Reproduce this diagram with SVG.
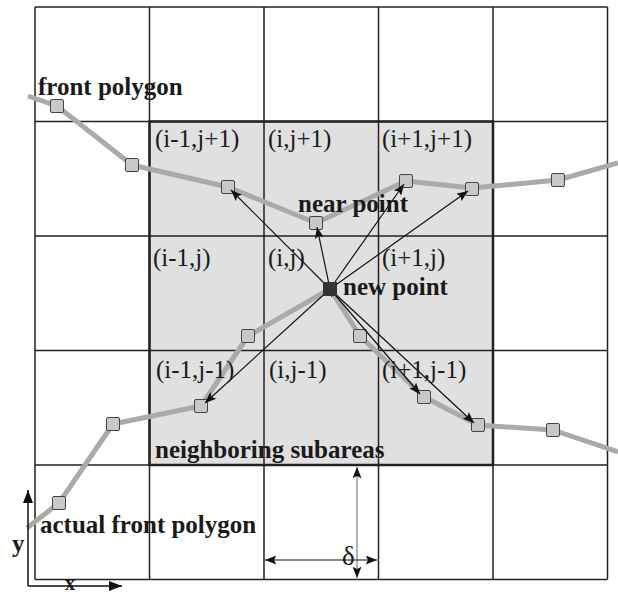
<svg xmlns="http://www.w3.org/2000/svg" width="618" height="596" viewBox="0 0 618 596">
<style>
.grid{stroke:#222;stroke-width:1.5;fill:none}
.poly{stroke:#aaa;stroke-width:5;fill:none;stroke-linejoin:round}
.sq{fill:#c8c8c8;stroke:#444;stroke-width:1}
.arr{stroke:#111;stroke-width:1.2;fill:none;marker-end:url(#ah);marker-start:url(#as)}
.lbl{font-family:"Liberation Serif","Times New Roman",serif;font-size:25px;fill:#1a1a1a}
.b{font-weight:bold}
</style>
<defs>
<marker id="ah" viewBox="0 0 10 8" refX="10" refY="4" markerWidth="12" markerHeight="9" markerUnits="userSpaceOnUse" orient="auto"><path d="M0,0 L10,4 L0,8 L2,4 Z" fill="#111"/></marker>
<marker id="as" viewBox="0 0 10 8" refX="2" refY="4" markerWidth="11" markerHeight="9" markerUnits="userSpaceOnUse" orient="auto-start-reverse"><path d="M0,0 L10,4 L0,8 Z" fill="#222"/></marker>
<marker id="dh" viewBox="0 0 10 8" refX="10" refY="4" markerWidth="12" markerHeight="9" markerUnits="userSpaceOnUse" orient="auto-start-reverse"><path d="M0,0 L10,4 L0,8 L2,4 Z" fill="#111"/></marker>
<rect id="s" x="-6.5" y="-6.5" width="13" height="13" rx="1.5"/>
</defs>
<rect width="618" height="596" fill="#fff"/>
<g id="shaded"><rect x="149.5" y="121.5" width="343.5" height="343.5" fill="#e0e0e0"/></g>
<g id="grid" class="grid">
<path d="M35,7V579.5M149.5,7V579.5M264,7V579.5M378.5,7V579.5M493,7V579.5M607.5,7V579.5"/>
<path d="M35,7H607.5M35,121.5H607.5M35,236H607.5M35,350.5H607.5M35,465H607.5M35,579.5H607.5"/>
<rect x="149.5" y="121.5" width="343.5" height="343.5" stroke-width="2.5"/>
</g>
<g id="front-polygon">
<path class="poly" d="M28,96 L57,106 L132,165 L228,187 L316,223 L406,181 L472,188 L558,180 L618,163"/>
<use href="#s" class="sq" x="57" y="106"/>
<use href="#s" class="sq" x="132" y="165"/>
<use href="#s" class="sq" x="228" y="187"/>
<use href="#s" class="sq" x="316" y="223"/>
<use href="#s" class="sq" x="406" y="181"/>
<use href="#s" class="sq" x="472" y="189"/>
<use href="#s" class="sq" x="558" y="180"/>
</g>
<g id="actual-front-polygon">
<path class="poly" d="M27,528 L59,503 L113,424 L201,406 L248,336 L330,289 L360,336 L424,397 L478,425 L553,430 L618,452"/>
<use href="#s" class="sq" x="59" y="503"/>
<use href="#s" class="sq" x="113" y="424"/>
<use href="#s" class="sq" x="201" y="406"/>
<use href="#s" class="sq" x="248" y="336"/>
<use href="#s" class="sq" x="360" y="336"/>
<use href="#s" class="sq" x="424" y="397"/>
<use href="#s" class="sq" x="478" y="425"/>
<use href="#s" class="sq" x="553" y="430"/>
</g>
<g id="connectors">
<path class="arr" d="M330,289 L231,190"/>
<path class="arr" d="M330,289 L317,227" stroke-width="2.2"/>
<path class="arr" d="M330,289 L404,184"/>
<path class="arr" d="M330,289 L468,191"/>
<path class="arr" d="M330,289 L205,403"/>
<path class="arr" d="M330,289 L420,394"/>
<path class="arr" d="M330,289 L474,423"/>
</g>
<g id="new-point"><rect x="323" y="282" width="14" height="14" fill="#333"/></g>
<g id="labels" class="lbl">
<text x="155" y="147">(i-1,j+1)</text>
<text x="268" y="147">(i,j+1)</text>
<text x="382" y="147">(i+1,j+1)</text>
<text x="153" y="266">(i-1,j)</text>
<text x="268" y="266">(i,j)</text>
<text x="382" y="266">(i+1,j)</text>
<text x="156" y="378">(i-1,j-1)</text>
<text x="269" y="378">(i,j-1)</text>
<text x="382" y="378">(i+1,j-1)</text>
<text class="b" x="38" y="95">front polygon</text>
<text class="b" x="298" y="212">near point</text>
<text class="b" x="343" y="295">new point</text>
<text class="b" x="155" y="458">neighboring subareas</text>
<text class="b" x="40" y="533">actual front polygon</text>
<text class="b" x="12" y="552">y</text>
<text class="b" x="65" y="590" font-size="20">x</text>
<text x="342" y="565" font-size="27">δ</text>
</g>
<g id="axes">
<path d="M28,586 V490 M28,586 H122" stroke="#111" stroke-width="1.5" fill="none"/>
<path d="M28,490 l-5,13 h10 z M122,586 l-13,-5 v10 z" fill="#111"/>
</g>
<g id="delta">
<path d="M357,467 V578" stroke="#999" stroke-width="1.5" marker-start="url(#dh)" marker-end="url(#dh)"/>
<path d="M265,560 H377" stroke="#111" stroke-width="1.2" marker-start="url(#dh)" marker-end="url(#dh)"/>
</g>
</svg>
